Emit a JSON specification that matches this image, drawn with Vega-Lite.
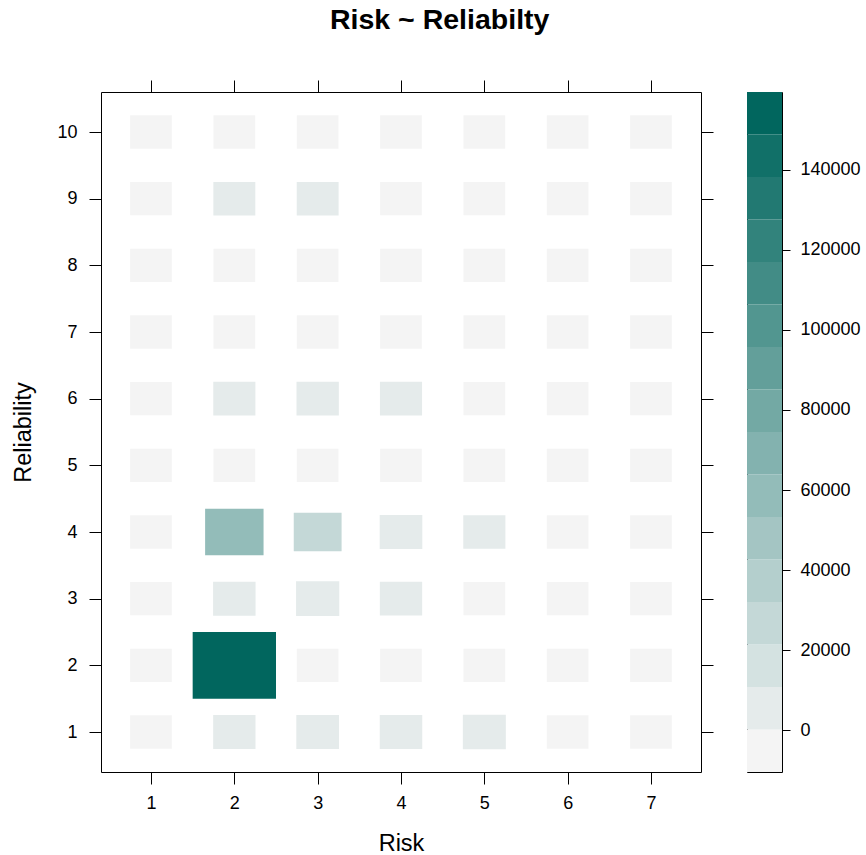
{
  "$schema": "https://vega.github.io/schema/vega-lite/v6.json",
  "autosize": {"type": "pad"},
  "padding": {"left": 11, "top": 5, "right": 0, "bottom": 0},
  "background": "white",
  "bounds": "flush",
  "spacing": 46,
  "title": {"text": "Risk ~ Reliabilty", "fontSize": 28.5, "fontWeight": "bold", "font": "Liberation Sans", "anchor": "start", "frame": "group", "dx": 229, "color": "black", "baseline": "alphabetic", "offset": 22},
  "config": {
    "view": {"stroke": "black", "strokeWidth": 1},
    "axis": {"tickColor": "black", "domain": false, "grid": false, "labelFont": "Liberation Sans", "titleFont": "Liberation Sans", "labelColor": "black", "titleColor": "black", "labelFontSize": 18, "titleFontSize": 23.5, "titleFontWeight": "normal", "tickWidth": 1}
  },
  "resolve": {"scale": {"color": "independent"}},
  "datasets": {
    "cells": [
      {"Risk": 1, "Reliability": 1, "Freq": 0}, {"Risk": 1, "Reliability": 2, "Freq": 0}, {"Risk": 1, "Reliability": 3, "Freq": 16}, {"Risk": 1, "Reliability": 4, "Freq": 7}, {"Risk": 1, "Reliability": 5, "Freq": 1}, {"Risk": 1, "Reliability": 6, "Freq": 8}, {"Risk": 1, "Reliability": 7, "Freq": 8}, {"Risk": 1, "Reliability": 8, "Freq": 0}, {"Risk": 1, "Reliability": 9, "Freq": 0}, {"Risk": 1, "Reliability": 10, "Freq": 0},
      {"Risk": 2, "Reliability": 1, "Freq": 3500}, {"Risk": 2, "Reliability": 2, "Freq": 149000}, {"Risk": 2, "Reliability": 3, "Freq": 4000}, {"Risk": 2, "Reliability": 4, "Freq": 58000}, {"Risk": 2, "Reliability": 5, "Freq": 4}, {"Risk": 2, "Reliability": 6, "Freq": 2500}, {"Risk": 2, "Reliability": 7, "Freq": 85}, {"Risk": 2, "Reliability": 8, "Freq": 11}, {"Risk": 2, "Reliability": 9, "Freq": 1800}, {"Risk": 2, "Reliability": 10, "Freq": 0},
      {"Risk": 3, "Reliability": 1, "Freq": 5000}, {"Risk": 3, "Reliability": 2, "Freq": 3}, {"Risk": 3, "Reliability": 3, "Freq": 7000}, {"Risk": 3, "Reliability": 4, "Freq": 23000}, {"Risk": 3, "Reliability": 5, "Freq": 2}, {"Risk": 3, "Reliability": 6, "Freq": 3500}, {"Risk": 3, "Reliability": 7, "Freq": 44}, {"Risk": 3, "Reliability": 8, "Freq": 0}, {"Risk": 3, "Reliability": 9, "Freq": 1200}, {"Risk": 3, "Reliability": 10, "Freq": 0},
      {"Risk": 4, "Reliability": 1, "Freq": 4000}, {"Risk": 4, "Reliability": 2, "Freq": 0}, {"Risk": 4, "Reliability": 3, "Freq": 3500}, {"Risk": 4, "Reliability": 4, "Freq": 4500}, {"Risk": 4, "Reliability": 5, "Freq": 0}, {"Risk": 4, "Reliability": 6, "Freq": 2500}, {"Risk": 4, "Reliability": 7, "Freq": 4}, {"Risk": 4, "Reliability": 8, "Freq": 0}, {"Risk": 4, "Reliability": 9, "Freq": 0}, {"Risk": 4, "Reliability": 10, "Freq": 0},
      {"Risk": 5, "Reliability": 1, "Freq": 6000}, {"Risk": 5, "Reliability": 2, "Freq": 0}, {"Risk": 5, "Reliability": 3, "Freq": 150}, {"Risk": 5, "Reliability": 4, "Freq": 2500}, {"Risk": 5, "Reliability": 5, "Freq": 0}, {"Risk": 5, "Reliability": 6, "Freq": 7}, {"Risk": 5, "Reliability": 7, "Freq": 0}, {"Risk": 5, "Reliability": 8, "Freq": 0}, {"Risk": 5, "Reliability": 9, "Freq": 0}, {"Risk": 5, "Reliability": 10, "Freq": 0},
      {"Risk": 6, "Reliability": 1, "Freq": 0}, {"Risk": 6, "Reliability": 2, "Freq": 0}, {"Risk": 6, "Reliability": 3, "Freq": 0}, {"Risk": 6, "Reliability": 4, "Freq": 4}, {"Risk": 6, "Reliability": 5, "Freq": 0}, {"Risk": 6, "Reliability": 6, "Freq": 0}, {"Risk": 6, "Reliability": 7, "Freq": 0}, {"Risk": 6, "Reliability": 8, "Freq": 0}, {"Risk": 6, "Reliability": 9, "Freq": 0}, {"Risk": 6, "Reliability": 10, "Freq": 0},
      {"Risk": 7, "Reliability": 1, "Freq": 0}, {"Risk": 7, "Reliability": 2, "Freq": 0}, {"Risk": 7, "Reliability": 3, "Freq": 0}, {"Risk": 7, "Reliability": 4, "Freq": 1}, {"Risk": 7, "Reliability": 5, "Freq": 0}, {"Risk": 7, "Reliability": 6, "Freq": 0}, {"Risk": 7, "Reliability": 7, "Freq": 0}, {"Risk": 7, "Reliability": 8, "Freq": 0}, {"Risk": 7, "Reliability": 9, "Freq": 0}, {"Risk": 7, "Reliability": 10, "Freq": 0}
    ],
    "bands": [
      {"lo": -10430, "hi": 186.25}, {"lo": 186.25, "hi": 10802.5}, {"lo": 10802.5, "hi": 21418.75}, {"lo": 21418.75, "hi": 32035},
      {"lo": 32035, "hi": 42651.25}, {"lo": 42651.25, "hi": 53267.5}, {"lo": 53267.5, "hi": 63883.75}, {"lo": 63883.75, "hi": 74500},
      {"lo": 74500, "hi": 85116.25}, {"lo": 85116.25, "hi": 95732.5}, {"lo": 95732.5, "hi": 106348.75}, {"lo": 106348.75, "hi": 116965},
      {"lo": 116965, "hi": 127581.25}, {"lo": 127581.25, "hi": 138197.5}, {"lo": 138197.5, "hi": 148813.75}, {"lo": 148813.75, "hi": 159430}
    ]
  },
  "hconcat": [
    {
      "width": 600,
      "height": 680,
      "data": {"name": "cells"},
      "layer": [
        {
          "mark": {"type": "point", "shape": "M-1,-0.8L1,-0.8L1,0.8L-1,0.8Z", "filled": true, "opacity": 1, "strokeWidth": 0},
          "encoding": {
            "x": {"field": "Risk", "type": "quantitative", "scale": {"domain": [0.4, 7.6], "nice": false, "zero": false}, "axis": {"orient": "bottom", "values": [1, 2, 3, 4, 5, 6, 7], "tickSize": 12, "labelPadding": 10, "title": "Risk", "titlePadding": 19}},
            "y": {"field": "Reliability", "type": "quantitative", "scale": {"domain": [0.4, 10.6], "nice": false, "zero": false}, "axis": {"orient": "left", "values": [1, 2, 3, 4, 5, 6, 7, 8, 9, 10], "tickSize": 12, "labelPadding": 12, "title": "Reliability", "titlePadding": 21}},
            "color": {"field": "Freq", "type": "quantitative", "legend": null, "scale": {"type": "threshold", "domain": [186.25, 10802.5, 21418.75, 32035, 42651.25, 53267.5, 63883.75, 74500, 85116.25, 95732.5, 106348.75, 116965, 127581.25, 138197.5, 148813.75], "range": ["#F4F4F4", "#E5EBEB", "#D4E2E1", "#C4D8D7", "#B4CFCD", "#A4C5C3", "#93BCB9", "#83B2AF", "#73A9A4", "#639F9A", "#529690", "#428C86", "#32837C", "#227972", "#117068", "#01665E"]}},
            "size": {"field": "Freq", "type": "quantitative", "legend": null, "scale": {"type": "pow", "exponent": 1.2, "domain": [0, 149000], "range": [1736, 6944], "zero": false}}
          }
        },
        {
          "mark": {"type": "point", "opacity": 0},
          "encoding": {
            "x": {"field": "Risk", "type": "quantitative", "axis": {"orient": "top", "values": [1, 2, 3, 4, 5, 6, 7], "tickSize": 12, "labels": false, "title": null}},
            "y": {"field": "Reliability", "type": "quantitative", "axis": {"orient": "right", "values": [1, 2, 3, 4, 5, 6, 7, 8, 9, 10], "tickSize": 12, "labels": false, "title": null}}
          }
        }
      ]
    },
    {
      "width": 35,
      "height": 680,
      "data": {"name": "bands"},
      "mark": {"type": "rect", "strokeWidth": 0},
      "encoding": {
        "y": {"field": "lo", "type": "quantitative", "scale": {"domain": [-10430, 159430], "nice": false, "zero": false}, "axis": {"orient": "right", "values": [0, 20000, 40000, 60000, 80000, 100000, 120000, 140000], "tickSize": 8, "labelPadding": 10, "title": null, "format": "d"}},
        "y2": {"field": "hi"},
        "color": {"field": "lo", "type": "quantitative", "legend": null, "scale": {"type": "threshold", "domain": [186.25, 10802.5, 21418.75, 32035, 42651.25, 53267.5, 63883.75, 74500, 85116.25, 95732.5, 106348.75, 116965, 127581.25, 138197.5, 148813.75], "range": ["#F4F4F4", "#E5EBEB", "#D4E2E1", "#C4D8D7", "#B4CFCD", "#A4C5C3", "#93BCB9", "#83B2AF", "#73A9A4", "#639F9A", "#529690", "#428C86", "#32837C", "#227972", "#117068", "#01665E"]}}
      }
    }
  ]
}
